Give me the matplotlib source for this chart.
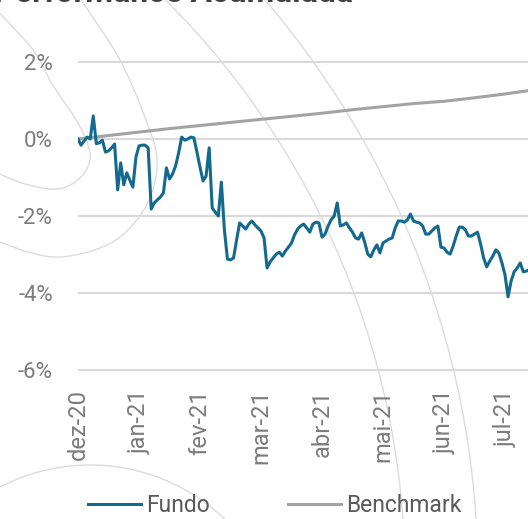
import numpy as np
import matplotlib
matplotlib.use("Agg")
import matplotlib.pyplot as plt
from matplotlib.patches import Circle

plt.rcParams['font.family'] = ['Roboto', 'DejaVu Sans']

# Cumulative return of the fund (%), one value per trading day from 30-dez-20
fundo = [
    0.00, -0.16, -0.05, 0.05, 0.00, 0.60, -0.12, -0.10, -0.03, -0.34,
    -0.31, -0.23, -0.13, -1.32, -0.62, -1.19, -0.88, -1.07, -1.25, -0.47,
    -0.18, -0.16, -0.16, -0.23, -1.82, -1.66, -1.58, -1.51, -1.40, -0.75,
    -1.04, -0.91, -0.70, -0.36, 0.05, -0.03, 0.00, 0.05, 0.03, -0.34,
    -0.73, -1.09, -0.96, -0.23, -1.79, -1.90, -2.00, -1.12, -2.36, -3.12,
    -3.14, -3.09, -2.62, -2.18, -2.26, -2.34, -2.21, -2.13, -2.23, -2.31,
    -2.39, -2.57, -3.35, -3.19, -3.09, -2.99, -2.94, -3.04, -2.91, -2.81,
    -2.70, -2.49, -2.34, -2.26, -2.21, -2.31, -2.42, -2.21, -2.16, -2.18,
    -2.55, -2.47, -2.26, -2.10, -2.00, -1.66, -2.26, -2.23, -2.18, -2.31,
    -2.42, -2.57, -2.60, -2.44, -2.68, -2.99, -3.06, -2.88, -2.75, -2.96,
    -2.70, -2.65, -2.60, -2.57, -2.31, -2.13, -2.13, -2.16, -2.10, -1.95,
    -2.13, -2.16, -2.18, -2.26, -2.47, -2.47, -2.39, -2.31, -2.26, -2.81,
    -2.83, -2.94, -2.99, -2.78, -2.52, -2.29, -2.29, -2.36, -2.52, -2.52,
    -2.47, -2.42, -2.73, -3.09, -3.32, -3.17, -3.04, -2.88, -2.96, -3.22,
    -3.53, -4.10, -3.69, -3.45, -3.35, -3.22, -3.45, -3.43, -3.40,
]

# Benchmark cumulative return (%), sampled every 10 trading days
bench_days = [0, 10, 20, 30, 40, 50, 60, 70, 80, 90, 100, 110, 120, 130, 140, 148]
benchmark = [0.00, 0.09, 0.18, 0.27, 0.35, 0.43, 0.51, 0.59, 0.67, 0.76,
             0.84, 0.92, 0.98, 1.07, 1.17, 1.26]

# Month labels, one every 20 trading days
month_labels = ['dez-20', 'jan-21', 'fev-21', 'mar-21', 'abr-21', 'mai-21', 'jun-21', 'jul-21']
y_ticks = [-6, -4, -2, 0, 2]
y_labels = ['-6%', '-4%', '-2%', '0%', '2%']

W, H = 528, 519
fig = plt.figure(figsize=(W / 100, H / 100), dpi=100)
fig.patch.set_facecolor('white')

# Decorative background ripples, in pixel space
bg = fig.add_axes([0, 0, 1, 1], zorder=0)
bg.set_xlim(0, W)
bg.set_ylim(H, 0)
bg.axis('off')
ripple = dict(color='#dcdcdc', lw=1.0, fill=False)


def smooth(pts, n=20):
    pts = np.asarray(pts, float)
    p = np.vstack([pts[0] * 2 - pts[1], pts, pts[-1] * 2 - pts[-2]])
    out = []
    for i in range(1, len(p) - 2):
        p0, p1, p2, p3 = p[i - 1], p[i], p[i + 1], p[i + 2]
        t = np.linspace(0, 1, n, endpoint=False)[:, None]
        out.append(0.5 * ((2 * p1) + (-p0 + p2) * t + (2 * p0 - 5 * p1 + 4 * p2 - p3) * t ** 2
                          + (-p0 + 3 * p1 - 3 * p2 + p3) * t ** 3))
    out.append(pts[-1:])
    return np.vstack(out)


for pts in (
    [(-5, 8), (33, 50), (52, 84), (75, 118), (87, 142), (90, 160), (80, 178), (58, 189), (25, 184), (-5, 172)],
    [(78, -5), (120, 60), (147, 123), (157, 160), (150, 198), (128, 230), (100, 248), (60, 257), (28, 252), (-5, 240)],
):
    c = smooth(pts)
    bg.plot(c[:, 0], c[:, 1], color='#dcdcdc', lw=1.0)

for r in (815, 888):
    bg.add_patch(Circle((-410, 577), r, **ripple))
bg.add_patch(Circle((90, 660), 195, **ripple))

# Title, running off the top edge
fig.text(-6 / W, 1 - 2 / H, 'Performance Acumulada', fontsize=23, fontweight='bold',
         color='#404040', ha='left', va='baseline')

# Main chart
x0, px_day, px_pct = 78, 3.05, 38.5
ylo, yhi = -6.5, 2.5
ax = fig.add_axes([x0 / W, 1 - (370 + 0.5 * px_pct) / H, (W - x0) / W, (yhi - ylo) * px_pct / H], zorder=1)
ax.patch.set_alpha(0)
ax.set_xlim(0, (W - x0) / px_day)
ax.set_ylim(ylo, yhi)

ax.plot(np.arange(len(fundo)), fundo, color='#136a8e', lw=2.2, label='Fundo', zorder=3, solid_joinstyle='round')
ax.plot(bench_days, benchmark, color='#a3a3a3', lw=2.2, label='Benchmark', zorder=2)

for s in ax.spines.values():
    s.set_visible(False)
ax.set_yticks(y_ticks)
ax.set_yticklabels(y_labels)
ax.yaxis.grid(True, color='#d9d9d9', lw=1.5)
ax.set_axisbelow(True)
ax.set_xticks(np.arange(len(month_labels)) * 20)
ax.set_xticklabels(month_labels, rotation=90, va='top', ha='center')
ax.tick_params(axis='y', length=0, pad=18, labelsize=16, labelcolor='#7c7c7c')
ax.tick_params(axis='x', length=0, pad=0, labelsize=17, labelcolor='#7c7c7c')

fig.legend(loc='center', bbox_to_anchor=(275 / W, 1 - 506 / H), ncol=2, frameon=False,
           fontsize=16.5, handlelength=2.3, handletextpad=0.25, columnspacing=3.4,
           labelcolor='#595959')

fig.savefig('out.png', dpi=100)
